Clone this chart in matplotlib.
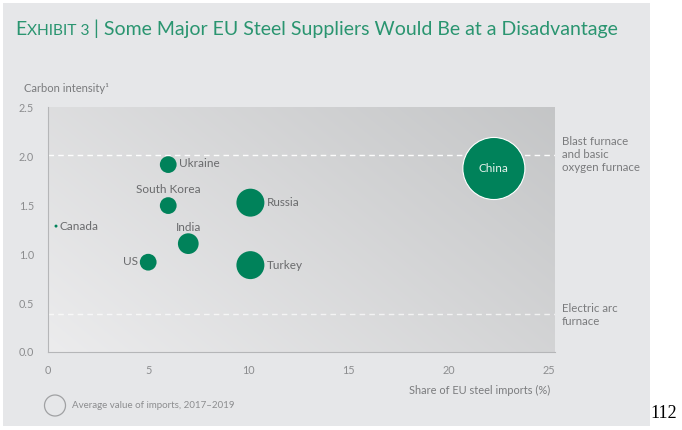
import matplotlib
matplotlib.use("Agg")
import matplotlib.pyplot as plt
import numpy as np
from matplotlib.patches import Rectangle, Circle

# ---- data ----
countries = ["Ukraine", "South Korea", "Canada", "India", "US", "Russia", "Turkey", "China"]
share_pct = [6.0, 6.0, 0.4, 7.0, 5.0, 10.1, 10.1, 22.25]
carbon_intensity = [1.92, 1.50, 1.29, 1.11, 0.92, 1.53, 0.89, 1.88]
import_value = [7.0, 7.0, 0.22, 10.7, 7.0, 19.5, 19.5, 96.0]   # relative bubble area
bf_bof_level = 2.02
eaf_level = 0.39
x_ticks = [0, 5, 10, 15, 20, 25]
y_ticks = [0.0, 0.5, 1.0, 1.5, 2.0, 2.5]

FONT = "Lato"
plt.rcParams["font.family"] = [FONT, "DejaVu Sans"]

W, H = 682, 430
fig = plt.figure(figsize=(W / 100, H / 100), dpi=100)
fig.patch.set_facecolor("white")

# background panel
fig.add_artist(Rectangle((3 / W, 1 - 426 / H), 647 / W, 423 / H, transform=fig.transFigure,
                         facecolor="#e6e7e9", edgecolor="none", zorder=0))

ax = fig.add_axes([48 / W, 1 - 352 / H, (555 - 48) / W, (352 - 107) / H])
ax.set_facecolor("none")

# gradient: lighter bottom-left, darker top-right
nx, ny = 200, 120
xx, yy = np.meshgrid(np.linspace(0, 1, nx), np.linspace(0, 1, ny))
t = np.clip((0.75 * xx + 0.45 * yy) / 1.2, 0, 1)
light = np.array([0.925, 0.925, 0.93])
dark = np.array([0.77, 0.775, 0.78])
img = light[None, None, :] * (1 - t[..., None]) + dark[None, None, :] * t[..., None]
ax.imshow(img, extent=[0, 1, 0, 1], transform=ax.transAxes, origin="lower",
          aspect="auto", zorder=0, interpolation="bilinear")
ax.set_xlim(0, 25.3)
ax.set_ylim(0, 2.51)

for s in ["top", "right"]:
    ax.spines[s].set_visible(False)
for s in ["left", "bottom"]:
    ax.spines[s].set_color("#b5b6b8")
    ax.spines[s].set_linewidth(0.8)

ax.set_xticks(x_ticks)
ax.set_xticklabels([str(v) for v in x_ticks])
ax.set_yticks(y_ticks)
ax.set_yticklabels([f"{v:.1f}" for v in y_ticks])
ax.tick_params(length=0, colors="#8c8d8f", labelsize=7.8, pad=9)
ax.tick_params(axis="y", pad=10)

# reference lines
ax.axhline(bf_bof_level, color="white", lw=1.0, ls=(0, (4, 3)), zorder=1, alpha=0.95)
ax.axhline(eaf_level, color="white", lw=1.0, ls=(0, (4, 3)), zorder=1, alpha=0.7)

green = "#00825a"
k = 20.8
sizes = [v * k for v in import_value]
edges = ["white" if c == "China" else green for c in countries]
ax.scatter(share_pct, carbon_intensity, s=sizes, color=green, edgecolors=edges,
           linewidths=[0.8 if c == "China" else 0 for c in countries], zorder=3)

lab_kw = dict(fontsize=8.5, color="#6a6b6d", zorder=4)
for c, xv, yv in zip(countries, share_pct, carbon_intensity):
    if c == "Ukraine":
        ax.annotate(c, (xv, yv), xytext=(8, 0.5), textcoords="offset points", ha="left", va="center", **lab_kw)
    elif c == "South Korea":
        ax.annotate(c, (xv, yv), xytext=(0, 7.5), textcoords="offset points", ha="center", va="bottom", **lab_kw)
    elif c == "Canada":
        ax.annotate(c, (xv, yv), xytext=(2.5, 0), textcoords="offset points", ha="left", va="center", **lab_kw)
    elif c == "India":
        ax.annotate(c, (xv, yv), xytext=(0, 8), textcoords="offset points", ha="center", va="bottom", **lab_kw)
    elif c == "US":
        ax.annotate(c, (xv, yv), xytext=(-7.5, 0.5), textcoords="offset points", ha="right", va="center", **lab_kw)
    elif c in ("Russia", "Turkey"):
        ax.annotate(c, (xv, yv), xytext=(12, 0), textcoords="offset points", ha="left", va="center", **lab_kw)
    elif c == "China":
        ax.annotate(c, (xv, yv), xytext=(0, 0), textcoords="offset points", ha="center", va="center",
                    fontsize=8.5, color="#e6f2ec", zorder=4)

# right side annotations
fig.text(562 / W, 1 - 136 / H, "Blast furnace\nand basic\noxygen furnace", ha="left", va="top",
         fontsize=8.3, color="#7a7b7d", linespacing=1.2)
fig.text(562 / W, 1 - 303 / H, "Electric arc\nfurnace", ha="left", va="top",
         fontsize=8.3, color="#7a7b7d", linespacing=1.2)

# axis titles
fig.text(24 / W, 1 - 89 / H, "Carbon intensity\u00b9", ha="left", va="center", fontsize=8.0, color="#7a7b7d")
fig.text(550 / W, 1 - 390 / H, "Share of EU steel imports (%)", ha="right", va="center", fontsize=7.9, color="#7a7b7d")

# legend
ax_leg = fig.add_axes([0, 0, 1, 1], facecolor="none")
ax_leg.set_xlim(0, W)
ax_leg.set_ylim(H, 0)
ax_leg.axis("off")
ax_leg.add_patch(Circle((55, 405.5), 10.5, facecolor="none", edgecolor="#a0a1a3", lw=0.9))
ax_leg.text(72, 406, "Average value of imports, 2017\u20132019", ha="left", va="center", fontsize=7.0, color="#8c8d8f")

# title with small caps "Exhibit"
tgreen = "#2a9570"
t1 = fig.text(15 / W, 1 - 35 / H, "E", fontsize=14, color=tgreen, ha="left", va="baseline")
t2 = ax_leg.annotate("XHIBIT 3", xy=(1, 0), xycoords=t1, xytext=(0.5, 0), textcoords="offset points",
                     fontsize=11.2, color=tgreen, ha="left", va="bottom")
t3 = ax_leg.annotate(" | Some Major EU Steel Suppliers Would Be at a Disadvantage", xy=(1, 0), xycoords=t2,
                     fontsize=14, color=tgreen, ha="left", va="bottom")

# page number
fig.text(664 / W, 1 - 414 / H, "112", fontsize=13, family="Liberation Serif", color="black", ha="center", va="center")

fig.savefig("out.png", dpi=100, facecolor=fig.get_facecolor())
